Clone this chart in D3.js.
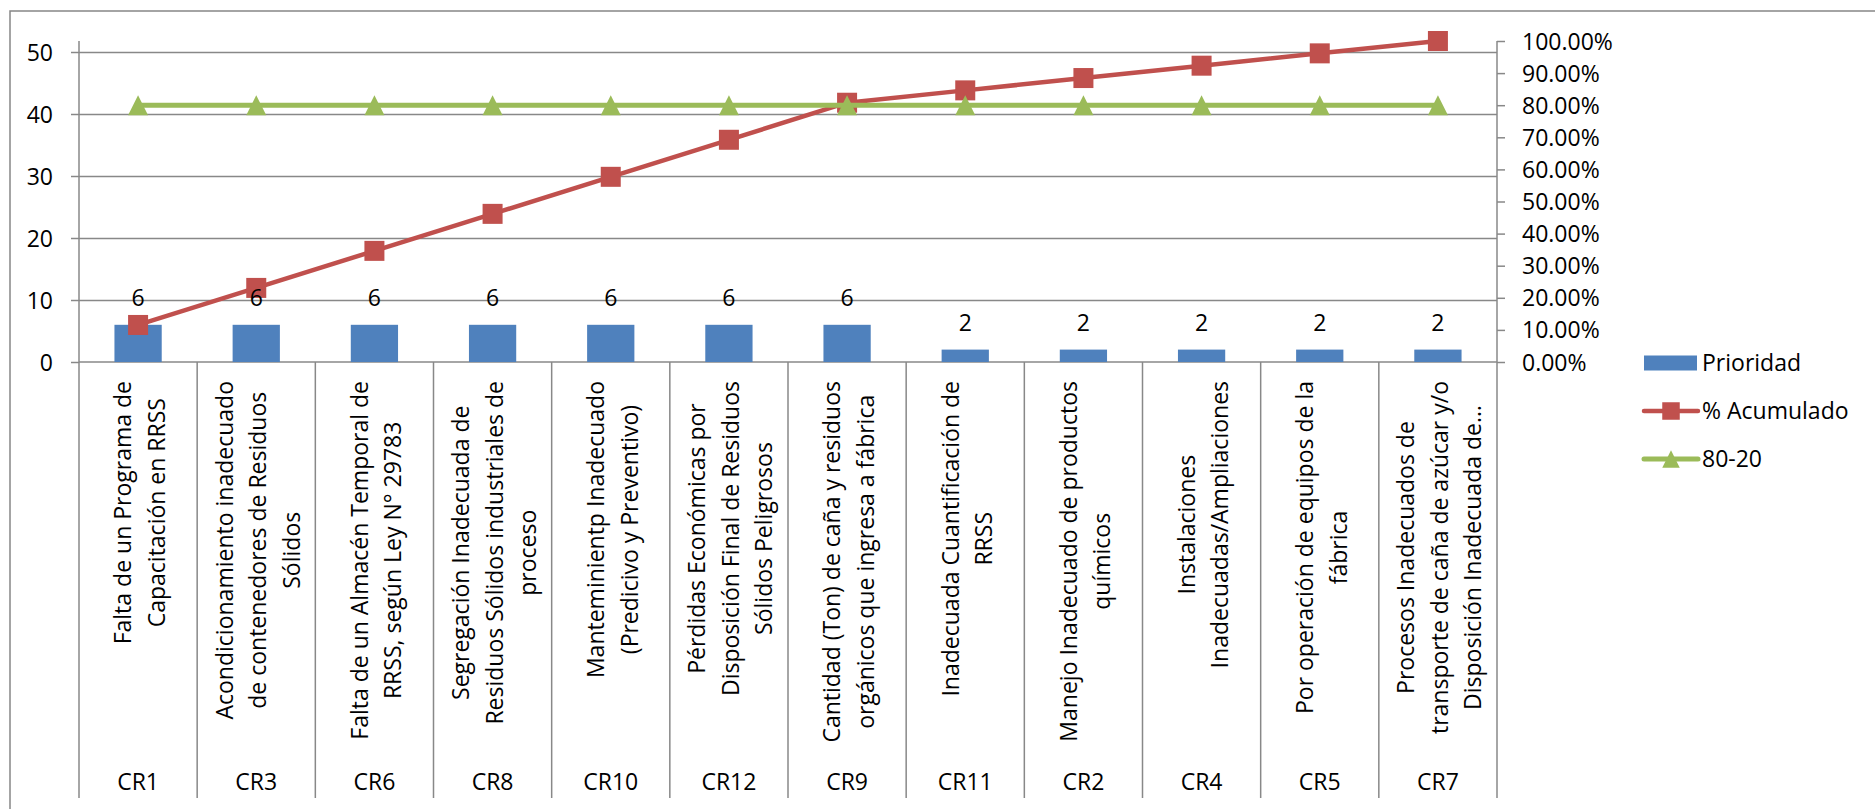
<!DOCTYPE html>
<html><head><meta charset="utf-8">
<script src="https://cdn.jsdelivr.net/npm/d3@7"></script>
<style>body{margin:0;background:#fff;} svg{display:block;font-family:"Open Sans",sans-serif;}</style>
</head><body><svg id="c" width="1875" height="809"></svg>
<script>
// ---- data ----
const codes = ["CR1","CR3","CR6","CR8","CR10","CR12","CR9","CR11","CR2","CR4","CR5","CR7"];
const descriptions = [
  ["Falta de un Programa de","Capacitación en RRSS"],
  ["Acondicionamiento inadecuado","de contenedores de Residuos","Sólidos"],
  ["Falta de un Almacén Temporal de","RRSS, según Ley N° 29783"],
  ["Segregación Inadecuada de","Residuos Sólidos industriales de","proceso"],
  ["Manteminientp Inadecuado","(Predicivo y Preventivo)"],
  ["Pérdidas Económicas por","Disposición Final de Residuos","Sólidos Peligrosos"],
  ["Cantidad (Ton) de caña y residuos","orgánicos que ingresa a fábrica"],
  ["Inadecuada Cuantificación de","RRSS"],
  ["Manejo Inadecuado de productos","químicos"],
  ["Instalaciones","Inadecuadas/Ampliaciones"],
  ["Por operación de equipos de la","fábrica"],
  ["Procesos Inadecuados de","transporte de caña de azúcar y/o","Disposición Inadecuada de…"]
];
const prioridad = [6,6,6,6,6,6,6,2,2,2,2,2];
const acumulado = [0.1154,0.2308,0.3462,0.4615,0.5769,0.6923,0.8077,0.8462,0.8846,0.9231,0.9615,1.0];
const linea8020 = [0.8,0.8,0.8,0.8,0.8,0.8,0.8,0.8,0.8,0.8,0.8,0.8];
const leftTicks = [0,10,20,30,40,50];
const rightTicks = [0,0.1,0.2,0.3,0.4,0.5,0.6,0.7,0.8,0.9,1.0];
const seriesNames = ["Prioridad","% Acumulado","80-20"];
const colors = {bar:"#4F81BD", cum:"#C0504D", ref:"#9BBB59", grid:"#888888", text:"#000"};

// ---- layout ----
const svg = d3.select("#c");
const X0 = 79, X1 = 1497, Y0 = 362, YTOP = 41, YBOT = 798;
const FS = 23;

const x = d3.scaleBand().domain(codes).range([X0, X1]).paddingInner(0).paddingOuter(0);
const yL = d3.scaleLinear().domain([0, 50]).range([Y0, 52]);
const yR = d3.scaleLinear().domain([0, 1]).range([Y0, YTOP]);

// outer chart border
svg.append("path").attr("d", `M10,${809+2} L10,11 L${1875+2},11`)
  .attr("fill","none").attr("stroke","#868686").attr("stroke-width",1.5);

// gridlines
const gridG = svg.append("g").attr("transform",`translate(${X0},0)`)
  .call(d3.axisLeft(yL).tickValues(leftTicks.filter(d=>d>0)).tickSize(-(X1-X0)).tickFormat(""));
gridG.select(".domain").remove();
gridG.selectAll("line").attr("stroke",colors.grid).attr("stroke-width",1.5);

// category separators / axis lines
const bounds = codes.map(c => x(c)).concat([X1]);
svg.append("g").selectAll("line").data(bounds).join("line")
  .attr("x1", d=>d).attr("x2", d=>d).attr("y1", Y0).attr("y2", YBOT)
  .attr("stroke",colors.grid).attr("stroke-width",1.5);
svg.append("line").attr("x1",X0).attr("x2",X0).attr("y1",YTOP).attr("y2",Y0).attr("stroke",colors.grid).attr("stroke-width",1.5);
svg.append("line").attr("x1",X1).attr("x2",X1).attr("y1",YTOP).attr("y2",Y0).attr("stroke",colors.grid).attr("stroke-width",1.5);
svg.append("line").attr("x1",X0).attr("x2",X1).attr("y1",Y0).attr("y2",Y0).attr("stroke",colors.grid).attr("stroke-width",1.5);

// left axis
const axL = svg.append("g").attr("transform",`translate(${X0},0)`)
  .call(d3.axisLeft(yL).tickValues(leftTicks).tickSize(8).tickPadding(18));
axL.select(".domain").remove();
axL.attr("font-size",FS).attr("font-family",'"Open Sans",sans-serif');
axL.selectAll("line").attr("stroke",colors.grid).attr("stroke-width",1.5);
axL.selectAll("text").attr("fill",colors.text).attr("dy","0.35em");

// right axis
const axR = svg.append("g").attr("transform",`translate(${X1},0)`)
  .call(d3.axisRight(yR).tickValues(rightTicks).tickSize(8).tickPadding(17).tickFormat(d3.format(".2%")));
axR.select(".domain").remove();
axR.attr("font-size",FS).attr("font-family",'"Open Sans",sans-serif');
axR.selectAll("line").attr("stroke",colors.grid).attr("stroke-width",1.5);
axR.selectAll("text").attr("fill",colors.text).attr("dy","0.35em");

// bars
const bw = x.bandwidth()*0.4;
svg.append("g").selectAll("rect").data(prioridad).join("rect")
  .attr("x",(d,i)=>x(codes[i]) + x.bandwidth()/2 - bw/2)
  .attr("width",bw)
  .attr("y",d=>yL(d)).attr("height",d=>Y0-yL(d))
  .attr("fill",colors.bar);

// cumulative line
const cx = i => x(codes[i]) + x.bandwidth()/2;
const lineCum = d3.line().x((d,i)=>cx(i)).y(d=>yR(d));
svg.append("path").datum(acumulado).attr("d",lineCum)
  .attr("fill","none").attr("stroke",colors.cum).attr("stroke-width",4.5).attr("stroke-linejoin","round");
const sq = 20;
svg.append("g").selectAll("rect").data(acumulado).join("rect")
  .attr("x",(d,i)=>cx(i)-sq/2).attr("y",d=>yR(d)-sq/2).attr("width",sq).attr("height",sq)
  .attr("fill",colors.cum);

// 80-20 line
svg.append("path").datum(linea8020).attr("d",lineCum)
  .attr("fill","none").attr("stroke",colors.ref).attr("stroke-width",5);
const tri = (px,py,s)=>`M${px},${py-s/2} L${px+s/2},${py+s/2} L${px-s/2},${py+s/2} Z`;
svg.append("g").selectAll("path").data(linea8020).join("path")
  .attr("d",(d,i)=>tri(cx(i), yR(d), 20)).attr("fill",colors.ref);

// data labels
svg.append("g").selectAll("text").data(prioridad).join("text")
  .attr("x",(d,i)=>cx(i)).attr("y",d=>yL(d)-18.5)
  .attr("text-anchor","middle").attr("font-size",FS).attr("fill",colors.text)
  .text(d=>d);

// category labels (rotated descriptions)
const LH = 33.5;
descriptions.forEach((lines,i)=>{
  const g = svg.append("g");
  const n = lines.length;
  const ts = lines.map((t,j)=>g.append("text").attr("font-size",FS).attr("fill",colors.text)
    .attr("text-anchor","middle").text(t));
  const maxLen = d3.max(ts, t=>t.node().getComputedTextLength());
  const yc = 381 + maxLen/2;
  ts.forEach((t,j)=>{
    const px = cx(i) + (j-(n-1)/2)*LH + 10;
    t.attr("transform",`translate(${px},${yc}) rotate(-90)`);
  });
});
// codes
svg.append("g").selectAll("text").data(codes).join("text")
  .attr("x",(d,i)=>cx(i)).attr("y",790)
  .attr("text-anchor","middle").attr("font-size",FS).attr("fill",colors.text).text(d=>d);

// legend
const lg = svg.append("g");
const LX = 1644, LTX = 1702, rows = [363, 411, 459];
lg.append("rect").attr("x",LX).attr("y",rows[0]-7.5).attr("width",53).attr("height",15).attr("fill",colors.bar);
lg.append("line").attr("x1",LX).attr("x2",LX+54).attr("y1",rows[1]).attr("y2",rows[1])
  .attr("stroke",colors.cum).attr("stroke-width",4.5).attr("stroke-linecap","round");
lg.append("rect").attr("x",LX+27-8.75).attr("y",rows[1]-8.75).attr("width",17.5).attr("height",17.5).attr("fill",colors.cum);
lg.append("line").attr("x1",LX).attr("x2",LX+54).attr("y1",rows[2]).attr("y2",rows[2])
  .attr("stroke",colors.ref).attr("stroke-width",5).attr("stroke-linecap","round");
lg.append("path").attr("d",tri(LX+27, rows[2], 17.5)).attr("fill",colors.ref);
lg.selectAll("text").data(seriesNames).join("text")
  .attr("x",LTX).attr("y",(d,i)=>rows[i]).attr("dy","0.35em")
  .attr("font-size",FS).attr("fill",colors.text).text(d=>d);
</script>
</body></html>
